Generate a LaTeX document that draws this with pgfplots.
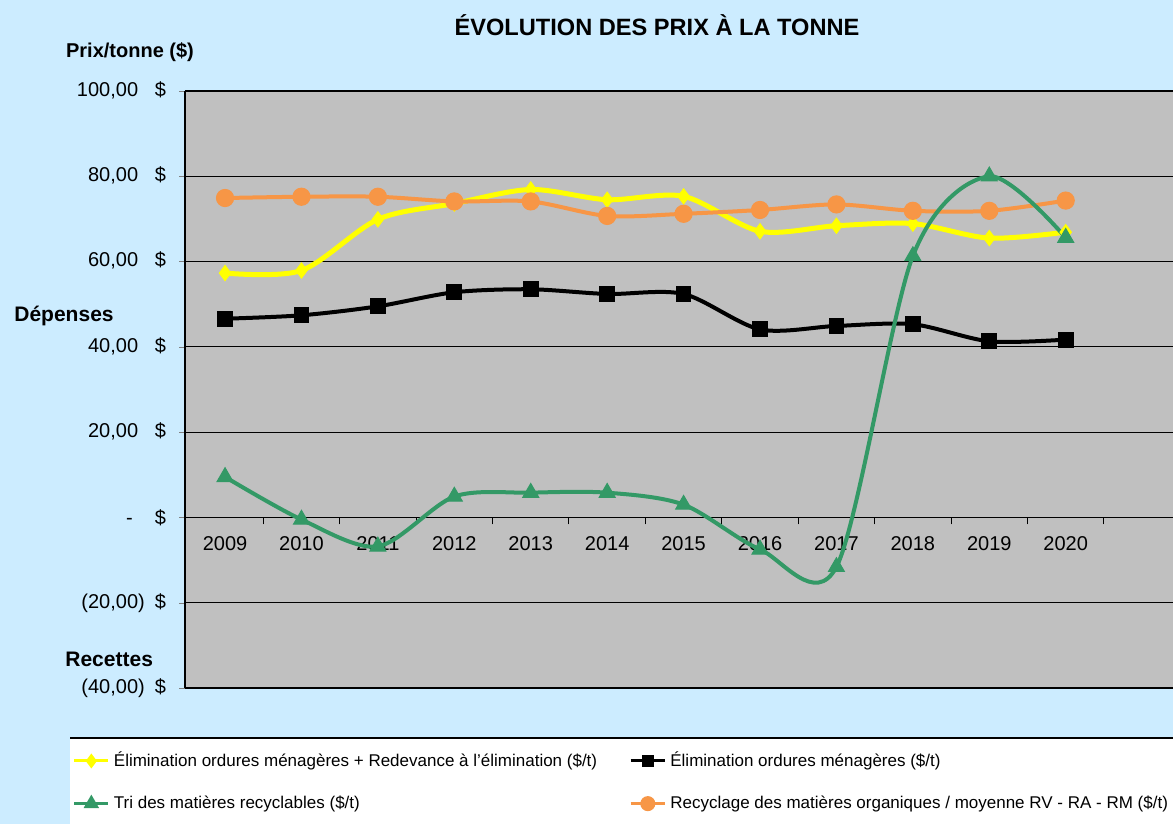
\documentclass[border=0pt]{standalone}
\usepackage{pgfplots}
\pgfplotsset{compat=1.18}
\usepackage{fontspec}
\setmainfont{Liberation Sans}

\definecolor{bgblue}{RGB}{204,236,255}
\definecolor{plotgray}{RGB}{192,192,192}
\definecolor{ylw}{RGB}{255,255,0}
\definecolor{grn}{RGB}{51,153,102}
\definecolor{org}{RGB}{247,150,70}

% accounting style tick label
\newcommand{\yl}[1]{\makebox[36pt][r]{#1}\hspace{5pt}\$}

\begin{document}
\begin{tikzpicture}
\clip (0,0) rectangle (586.5pt,412pt);
\fill[bgblue] (0,0) rectangle (586.5pt,412pt);
% legend panel
\fill[white] (35pt,-5pt) rectangle (590pt,43pt);
\draw[black, line width=0.8pt] (35pt,43pt) -- (590pt,43pt);

\node[font=\bfseries\fontsize{11.8}{13}\selectfont] at (328.5pt,399.5pt) {ÉVOLUTION DES PRIX À LA TONNE};
\node[font=\bfseries\fontsize{10}{12}\selectfont] at (65pt,386pt) {Prix/tonne (\$)};
\node[font=\bfseries\fontsize{10.5}{12}\selectfont, anchor=west, inner sep=0pt] at (7pt,254pt) {Dépenses};
\node[font=\bfseries\fontsize{10.5}{12}\selectfont, anchor=west, inner sep=0pt] at (32.5pt,82.5pt) {Recettes};

\begin{axis}[
    at={(92.5pt,68pt)}, anchor=south west,
    scale only axis, width=494pt, height=298.5pt,
    xmin=-0.524, xmax=12.404, ymin=-40, ymax=100,
    axis background/.style={fill=plotgray},
    axis y line=left, axis x line=middle,
    axis line style={-, black},
    x axis line style={line width=0.7pt},
    y axis line style={line width=1.2pt},
    ytick={-40,-20,...,100},
    yticklabels={{\yl{(40,00)}},{\yl{(20,00)}},{\yl{-\hspace{6pt}}},{\yl{20,00\phantom{)}}},{\yl{40,00\phantom{)}}},{\yl{60,00\phantom{)}}},{\yl{80,00\phantom{)}}},{\yl{100,00\phantom{)}}}},
    ytick align=outside, major tick length=3pt,
    ymajorgrids, major grid style={black, line width=0.6pt},
    xtick={0,...,11},
    xticklabels={2009,2010,2011,2012,2013,2014,2015,2016,2017,2018,2019,2020},
    major x tick style={draw=none},
    minor xtick={0.5,1.5,...,11.5},
    xtick align=outside, minor tick length=3.5pt,
    minor x tick style={black, line width=0.5pt},
    tick label style={font=\fontsize{10}{12}\selectfont},
    xticklabel style={yshift=-3pt},
    yticklabel style={xshift=-3pt},
    legend columns=2,
    legend cell align=left,
    legend style={at={(-0.114,-0.100)}, anchor=north west, draw=none, fill=none,
        inner sep=0pt, row sep=9pt,
        font=\fontsize{8.5}{10}\selectfont,
        /tikz/every even column/.append style={column sep=14pt}},
]
\addplot[forget plot, ylw, line width=2.5pt, smooth, mark=diamond*, mark size=3.8pt,
    mark options={solid, fill=ylw, draw=ylw, line width=0.5pt}] coordinates {
    (0,57.3) (1,57.9) (2,69.9) (3,73.6) (4,76.9) (5,74.5)
    (6,75.3) (7,67.1) (8,68.4) (9,68.9) (10,65.5) (11,66.9)
};
\addplot[forget plot, black, line width=2pt, smooth, mark=square*, mark size=3.7pt,
    mark options={solid, fill=black, line width=0.5pt}] coordinates {
    (0,46.6) (1,47.4) (2,49.5) (3,52.8) (4,53.5) (5,52.4)
    (6,52.4) (7,44.1) (8,44.9) (9,45.3) (10,41.3) (11,41.7)
};
\addplot[forget plot, org, line width=2pt, smooth, mark=*, mark size=4.3pt,
    mark options={solid, fill=org, draw=org, line width=0.5pt}] coordinates {
    (0,74.9) (1,75.2) (2,75.2) (3,74.1) (4,74.1) (5,70.7)
    (6,71.2) (7,72.1) (8,73.4) (9,71.9) (10,71.9) (11,74.3)
};
\addplot[forget plot, grn, line width=2pt, smooth, mark=triangle*, mark size=4.6pt,
    mark options={solid, fill=grn, draw=grn, line width=0.5pt}] coordinates {
    (0,9.5) (1,-0.5) (2,-6.8) (3,4.9) (4,5.8) (5,5.8)
    (6,3.0) (7,-7.5) (8,-11.6) (9,61.3) (10,80.0) (11,65.6)
};
\addlegendimage{ylw, line width=1.5pt, mark=diamond*, mark size=2.5pt, mark options={fill=ylw}}
\addlegendentry{Élimination ordures ménagères + Redevance à l'élimination (\$/t)}
\addlegendimage{black, line width=1.5pt, mark=square*, mark size=2.2pt}
\addlegendentry{Élimination ordures ménagères (\$/t)}
\addlegendimage{grn, line width=1.5pt, mark=triangle*, mark size=3pt, mark options={fill=grn}}
\addlegendentry{Tri des matières recyclables (\$/t)}
\addlegendimage{org, line width=1.5pt, mark=*, mark size=3pt, mark options={fill=org}}
\addlegendentry{Recyclage des matières organiques / moyenne RV - RA - RM (\$/t)}
\end{axis}
\end{tikzpicture}
\end{document}
